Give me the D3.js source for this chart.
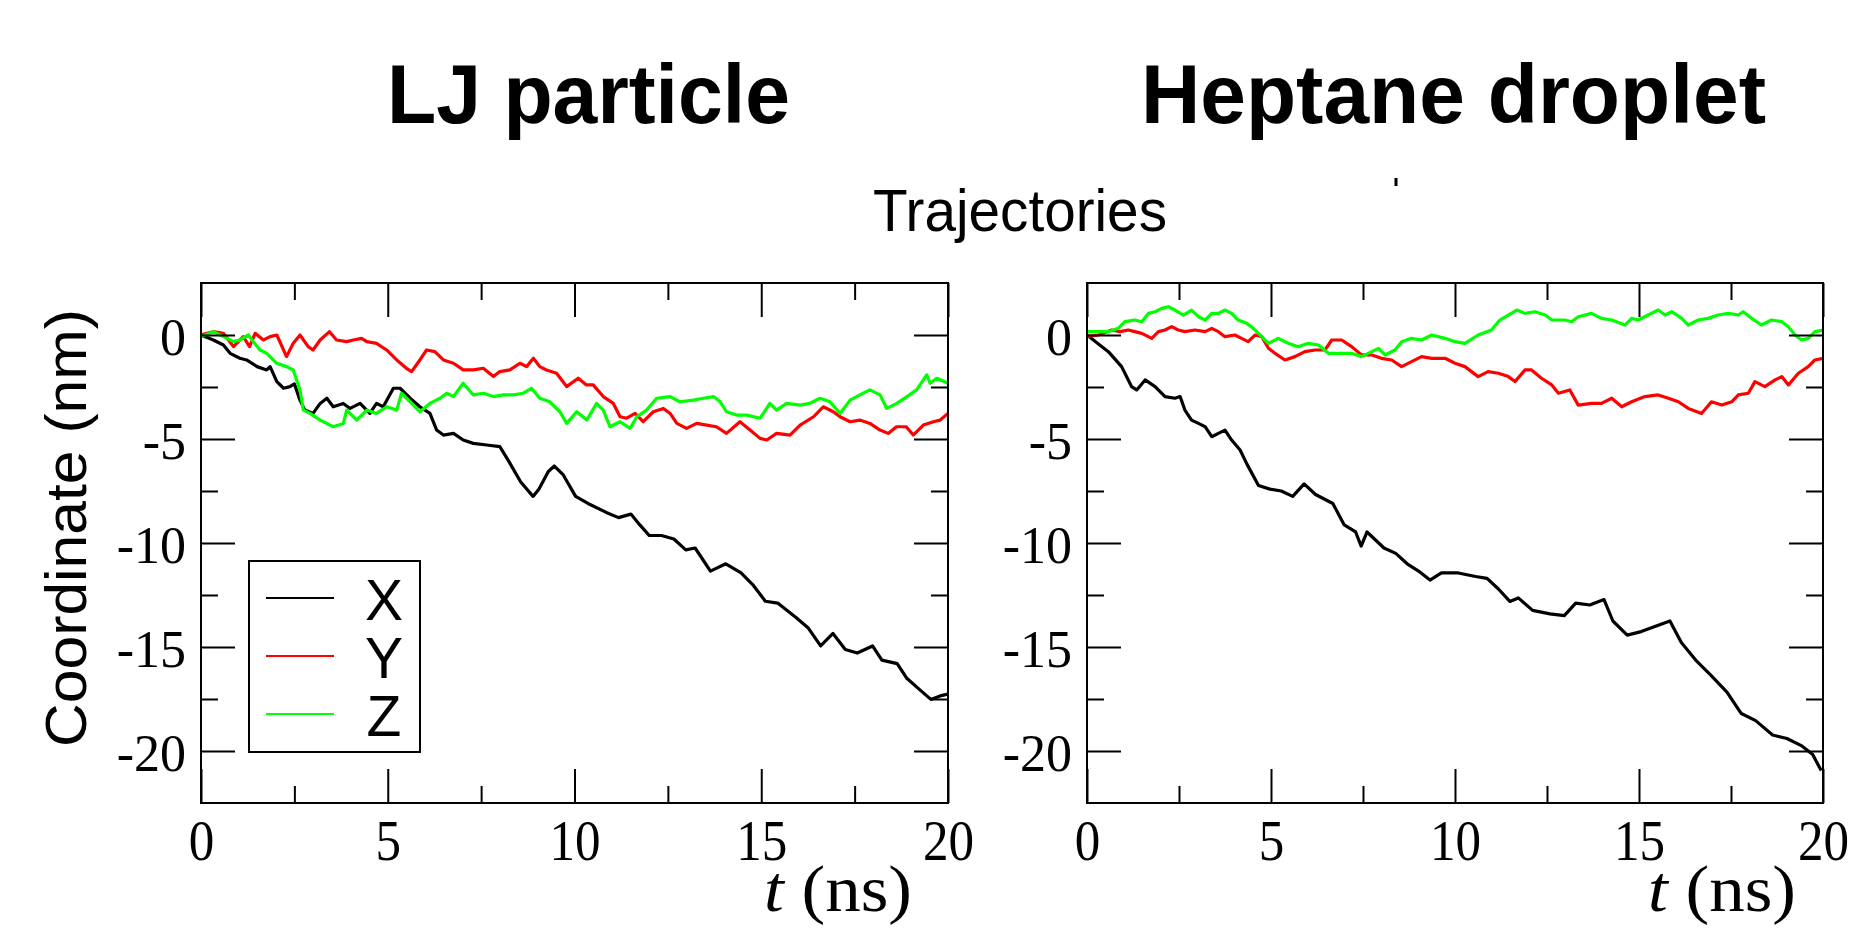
<!DOCTYPE html>
<html>
<head>
<meta charset="utf-8">
<script src="https://cdn.jsdelivr.net/npm/d3@7"></script>
<style>
  body { margin: 0; background: #fff; }
  svg { display: block; }
</style>
</head>
<body>
<div id="chart"></div>
<script>
const width = 1858
const height = 928

// trajectories, [t (ns), coordinate (nm)]
const ljX = [[0,0],[0.33,-0.24],[0.6,-0.48],[0.78,-0.88],[1.04,-1.12],[1.22,-1.2],[1.5,-1.52],[1.76,-1.68],[1.85,-1.52],[2.03,-2.24],[2.21,-2.56],[2.38,-2.48],[2.5,-2.35],[2.65,-3.13],[2.78,-3.61],[3.0,-3.77],[3.19,-3.29],[3.37,-3.04],[3.54,-3.45],[3.81,-3.29],[3.99,-3.53],[4.26,-3.29],[4.52,-3.77],[4.7,-3.29],[4.88,-3.45],[5.15,-2.56],[5.33,-2.56],[5.6,-3.04],[5.86,-3.45],[6.13,-3.77],[6.31,-4.57],[6.49,-4.81],[6.76,-4.73],[7.02,-5.05],[7.29,-5.21],[7.65,-5.29],[8.0,-5.37],[8.23,-6.04],[8.56,-7.07],[8.89,-7.76],[9.05,-7.4],[9.3,-6.56],[9.46,-6.3],[9.7,-6.73],[10.03,-7.76],[10.36,-8.1],[10.85,-8.53],[11.18,-8.78],[11.51,-8.61],[11.75,-9.13],[12.0,-9.64],[12.33,-9.64],[12.66,-9.81],[12.98,-10.33],[13.23,-10.24],[13.64,-11.35],[14.05,-11.0],[14.46,-11.44],[14.79,-12.04],[15.11,-12.8],[15.44,-12.89],[15.93,-13.58],[16.26,-14.09],[16.59,-14.95],[16.92,-14.35],[17.25,-15.12],[17.57,-15.29],[17.98,-14.95],[18.23,-15.63],[18.64,-15.8],[18.89,-16.49],[19.21,-17.0],[19.54,-17.52],[19.79,-17.35],[20.0,-17.26]]
const ljY = [[0,0],[0.33,0.16],[0.6,0.08],[0.87,-0.56],[1.13,-0.08],[1.3,-0.56],[1.45,0.08],[1.67,-0.24],[1.85,-0.08],[2.03,0],[2.29,-1.04],[2.47,-0.4],[2.65,0],[2.87,-0.56],[3.0,-0.72],[3.19,-0.24],[3.44,0.16],[3.63,-0.24],[3.9,-0.32],[4.08,-0.24],[4.3,-0.16],[4.44,-0.32],[4.7,-0.4],[4.97,-0.72],[5.24,-1.2],[5.5,-1.6],[5.64,-1.76],[5.86,-1.2],[6.04,-0.72],[6.26,-0.8],[6.49,-1.2],[6.76,-1.36],[7.02,-1.68],[7.29,-1.68],[7.56,-1.6],[7.83,-2.0],[8.0,-1.76],[8.27,-1.68],[8.54,-1.36],[8.72,-1.52],[8.9,-1.12],[9.07,-1.52],[9.25,-1.68],[9.52,-1.84],[9.79,-2.48],[10.1,-2.08],[10.32,-2.4],[10.5,-2.4],[10.77,-2.96],[11.04,-3.29],[11.22,-3.93],[11.4,-4.0],[11.62,-3.77],[11.84,-4.17],[12.11,-3.69],[12.38,-3.53],[12.56,-3.77],[12.74,-4.25],[13.0,-4.49],[13.27,-4.25],[13.54,-4.33],[13.8,-4.41],[14.07,-4.73],[14.43,-4.17],[14.7,-4.57],[14.97,-4.97],[15.15,-5.05],[15.41,-4.73],[15.77,-4.81],[16.04,-4.33],[16.4,-3.93],[16.66,-3.45],[16.93,-3.69],[17.11,-3.93],[17.38,-4.17],[17.64,-4.09],[17.91,-4.25],[18.18,-4.57],[18.4,-4.73],[18.62,-4.41],[18.88,-4.41],[19.07,-4.81],[19.34,-4.33],[19.61,-4.17],[19.79,-4.09],[20.0,-3.77]]
const ljZ = [[0,-0.08],[0.33,0.16],[0.6,-0.08],[0.87,-0.32],[1.04,-0.24],[1.27,0],[1.4,-0.32],[1.58,-0.72],[1.76,-0.88],[2.03,-1.36],[2.29,-1.52],[2.47,-1.68],[2.65,-2.64],[2.74,-3.61],[2.92,-3.77],[3.19,-4.09],[3.54,-4.41],[3.81,-4.25],[3.9,-3.61],[4.17,-4.09],[4.44,-3.61],[4.7,-3.77],[4.97,-3.45],[5.24,-3.61],[5.37,-2.8],[5.6,-3.21],[5.86,-3.69],[6.13,-3.29],[6.4,-3.04],[6.58,-2.8],[6.76,-2.96],[7.02,-2.32],[7.29,-2.88],[7.56,-2.8],[7.83,-2.96],[8.1,-2.88],[8.36,-2.88],[8.63,-2.8],[8.85,-2.56],[9.07,-3.04],[9.34,-3.21],[9.61,-3.69],[9.79,-4.25],[10.06,-3.69],[10.33,-4.09],[10.59,-3.29],[10.77,-3.61],[10.95,-4.41],[11.22,-4.17],[11.49,-4.49],[11.67,-3.93],[11.93,-3.61],[12.2,-3.04],[12.56,-2.96],[12.82,-3.21],[13.18,-3.13],[13.45,-3.04],[13.72,-2.96],[13.9,-3.21],[14.07,-3.69],[14.34,-3.85],[14.61,-3.85],[14.97,-4.0],[15.23,-3.29],[15.41,-3.61],[15.68,-3.29],[16.04,-3.37],[16.3,-3.29],[16.57,-3.04],[16.84,-3.21],[17.11,-3.77],[17.38,-3.13],[17.64,-2.88],[17.91,-2.64],[18.18,-2.88],[18.36,-3.53],[18.63,-3.29],[18.9,-2.96],[19.16,-2.64],[19.43,-1.92],[19.52,-2.32],[19.7,-2.08],[20.0,-2.32]]

const hepX = [[0,0],[0.58,-0.8],[0.94,-1.52],[1.21,-2.48],[1.35,-2.64],[1.58,-2.16],[1.85,-2.48],[2.12,-2.96],[2.39,-3.04],[2.53,-2.96],[2.66,-3.61],[2.84,-4.09],[3.03,-4.25],[3.21,-4.41],[3.39,-4.89],[3.57,-4.73],[3.75,-4.57],[3.93,-5.05],[4.16,-5.53],[4.35,-6.22],[4.66,-7.24],[4.97,-7.41],[5.28,-7.5],[5.59,-7.76],[5.9,-7.16],[6.21,-7.67],[6.68,-8.1],[6.99,-9.13],[7.3,-9.47],[7.45,-10.15],[7.61,-9.47],[8.07,-10.24],[8.39,-10.5],[8.7,-11.0],[9.01,-11.35],[9.32,-11.78],[9.63,-11.44],[10.09,-11.44],[10.56,-11.61],[10.87,-11.7],[11.18,-12.21],[11.49,-12.81],[11.72,-12.64],[12.11,-13.24],[12.58,-13.41],[12.97,-13.49],[13.28,-12.89],[13.66,-12.98],[14.05,-12.72],[14.29,-13.75],[14.68,-14.43],[15.06,-14.26],[15.45,-14.0],[15.84,-13.75],[16.15,-14.78],[16.54,-15.63],[16.93,-16.32],[17.39,-17.17],[17.78,-18.2],[18.17,-18.54],[18.63,-19.23],[19.02,-19.4],[19.41,-19.74],[19.72,-20.17],[19.95,-20.94]]
const hepY = [[0,-0.08],[0.31,0],[0.67,0.24],[0.9,0.16],[1.12,0.24],[1.3,0.16],[1.49,0.08],[1.76,-0.16],[1.94,0.16],[2.12,0.24],[2.3,0.4],[2.48,0.24],[2.66,0.16],[2.93,0.24],[3.21,0.16],[3.39,0.32],[3.57,0.16],[3.75,-0.08],[4.02,0],[4.2,-0.16],[4.38,-0.32],[4.57,0],[4.75,-0.08],[4.93,-0.64],[5.11,-0.88],[5.38,-1.2],[5.65,-1.04],[5.92,-0.8],[6.2,-0.72],[6.47,-0.72],[6.65,-0.24],[6.92,-0.24],[7.19,-0.56],[7.46,-0.96],[7.74,-0.96],[8.0,-1.12],[8.28,-1.2],[8.55,-1.52],[8.82,-1.28],[9.09,-1.04],[9.37,-1.12],[9.73,-1.12],[10.0,-1.36],[10.27,-1.52],[10.63,-2.0],[10.9,-1.76],[11.18,-1.84],[11.45,-2.0],[11.63,-2.24],[11.9,-1.68],[12.08,-1.68],[12.35,-2.08],[12.63,-2.4],[12.81,-2.8],[13.12,-2.64],[13.35,-3.37],[13.71,-3.29],[13.98,-3.29],[14.26,-3.04],[14.53,-3.45],[14.8,-3.21],[15.16,-2.96],[15.52,-2.88],[15.8,-3.04],[16.07,-3.21],[16.34,-3.53],[16.7,-3.77],[16.97,-3.21],[17.25,-3.37],[17.52,-3.21],[17.7,-2.88],[17.97,-2.8],[18.15,-2.24],[18.42,-2.48],[18.7,-2.16],[18.88,-2.0],[19.06,-2.4],[19.33,-1.84],[19.6,-1.52],[19.78,-1.2],[20.0,-1.12]]
const hepZ = [[0,0.16],[0.58,0.16],[0.85,0.32],[1.03,0.64],[1.3,0.72],[1.49,0.64],[1.67,1.04],[1.85,1.12],[2.03,1.28],[2.21,1.36],[2.39,1.2],[2.62,0.96],[2.84,1.2],[3.03,0.88],[3.21,0.72],[3.39,1.04],[3.57,1.04],[3.75,1.2],[3.93,1.04],[4.11,0.72],[4.34,0.56],[4.57,0.24],[4.75,-0.08],[4.93,-0.4],[5.2,-0.16],[5.47,-0.4],[5.74,-0.56],[6.01,-0.4],[6.29,-0.48],[6.56,-0.88],[6.83,-0.88],[7.19,-0.88],[7.46,-1.04],[7.74,-0.8],[7.92,-0.64],[8.1,-0.96],[8.37,-0.72],[8.55,-0.32],[8.82,-0.16],[9.09,-0.24],[9.37,0],[9.73,-0.16],[10.0,-0.32],[10.27,-0.4],[10.63,0],[10.99,0.24],[11.22,0.72],[11.45,0.96],[11.68,1.2],[11.9,1.04],[12.17,1.12],[12.45,0.96],[12.63,0.72],[12.99,0.72],[13.17,0.64],[13.35,0.88],[13.71,1.04],[13.98,0.8],[14.26,0.72],[14.62,0.48],[14.8,0.8],[14.98,0.72],[15.25,0.96],[15.52,1.2],[15.71,0.96],[15.89,1.12],[16.16,0.8],[16.34,0.48],[16.61,0.72],[16.88,0.8],[17.15,0.96],[17.43,1.04],[17.7,0.96],[17.83,1.12],[18.06,0.8],[18.33,0.48],[18.6,0.72],[18.88,0.64],[19.06,0.4],[19.24,0],[19.42,-0.24],[19.6,-0.16],[19.78,0.16],[20.0,0.24]]

const xMajor = [0, 5, 10, 15, 20]
const xMinor = [2.5, 7.5, 12.5, 17.5]
const yMajor = [0, -5, -10, -15, -20]
const yMinor = [-2.5, -7.5, -12.5, -17.5]
const seriesNames = ['X', 'Y', 'Z']
const panelTitles = ['LJ particle', 'Heptane droplet']
const panelSeries = [[ljX, ljY, ljZ], [hepX, hepY, hepZ]]

const colors = ['#000000', '#ff0000', '#00ff00']
const sans = "'Liberation Sans', Arial, sans-serif"
const serif = "'Liberation Serif', 'Times New Roman', serif"

const plotTop = 283
const plotBottom = 803
// layout of each panel: frame edges, title and axis-title placement
const layout = [
  { left: 201, right: 948, titleX: 387, titleW: 403, labelX: 764 },
  { left: 1087, right: 1823, titleX: 1141, titleW: 625, labelX: 1648 },
]

const svg = d3.select('#chart')
  .append('svg')
    .attr('width', width)
    .attr('height', height)

const y_scale = d3.scaleLinear()
  .domain([-22.5, 2.5])
  .range([plotBottom, plotTop])

const line = x_scale => d3.line()
  .x(d => x_scale(d[0]))
  .y(d => y_scale(d[1]))

const styleAxis = (g, font, size) => g
  .call(g => g.selectAll('.domain').remove())
  .call(g => g.selectAll('.tick line').attr('stroke', '#000').attr('stroke-width', 2))
  .call(g => g.selectAll('.tick text')
    .attr('fill', '#000')
    .attr('font-family', font)
    .attr('font-size', size))

const label = d => String(d)

panelTitles.forEach((title, i) => {
  const L = layout[i]
  const x_scale = d3.scaleLinear()
    .domain([0, 20])
    .range([L.left, L.right])
  const g = svg.append('g')

  // panel title
  g.append('text')
    .attr('x', L.titleX)
    .attr('y', 123)
    .attr('font-family', sans)
    .attr('font-weight', 'bold')
    .attr('font-size', 84)
    .attr('textLength', L.titleW)
    .attr('lengthAdjust', 'spacingAndGlyphs')
    .text(title)

  // clipped lines
  g.append('clipPath')
    .attr('id', `clip${i}`)
    .append('rect')
      .attr('x', L.left)
      .attr('y', plotTop)
      .attr('width', L.right - L.left)
      .attr('height', plotBottom - plotTop)

  g.append('g')
    .attr('clip-path', `url(#clip${i})`)
    .selectAll('path')
    .data(panelSeries[i])
    .enter().append('path')
      .attr('d', line(x_scale))
      .attr('fill', 'none')
      .attr('stroke', (d, k) => colors[k])
      .attr('stroke-width', 3.2)
      .attr('stroke-linejoin', 'round')

  // ticks, all pointing inwards
  g.append('g')
    .attr('transform', `translate(0,${plotBottom})`)
    .call(d3.axisBottom(x_scale).tickValues(xMajor).tickSizeInner(-34).tickSizeOuter(0).tickPadding(16).tickFormat(label))
    .call(g => styleAxis(g, serif, 58))
    .call(g => g.selectAll('.tick text').attr('transform', 'scale(0.88,1)'))
  g.append('g')
    .attr('transform', `translate(0,${plotBottom})`)
    .call(d3.axisBottom(x_scale).tickValues(xMinor).tickSizeInner(-17).tickSizeOuter(0).tickFormat(''))
    .call(g => styleAxis(g, serif, 58))
  g.append('g')
    .attr('transform', `translate(0,${plotTop})`)
    .call(d3.axisTop(x_scale).tickValues(xMajor).tickSizeInner(-34).tickSizeOuter(0).tickFormat(''))
    .call(g => styleAxis(g, serif, 58))
  g.append('g')
    .attr('transform', `translate(0,${plotTop})`)
    .call(d3.axisTop(x_scale).tickValues(xMinor).tickSizeInner(-17).tickSizeOuter(0).tickFormat(''))
    .call(g => styleAxis(g, serif, 58))

  g.append('g')
    .attr('transform', `translate(${L.left},0)`)
    .call(d3.axisLeft(y_scale).tickValues(yMajor).tickSizeInner(-34).tickSizeOuter(0).tickPadding(15).tickFormat(label))
    .call(g => styleAxis(g, serif, 52))
    .call(g => g.selectAll('.tick text').attr('dy', '0.37em'))
  g.append('g')
    .attr('transform', `translate(${L.left},0)`)
    .call(d3.axisLeft(y_scale).tickValues(yMinor).tickSizeInner(-17).tickSizeOuter(0).tickFormat(''))
    .call(g => styleAxis(g, serif, 52))
  g.append('g')
    .attr('transform', `translate(${L.right},0)`)
    .call(d3.axisRight(y_scale).tickValues(yMajor).tickSizeInner(-34).tickSizeOuter(0).tickFormat(''))
    .call(g => styleAxis(g, serif, 52))
  g.append('g')
    .attr('transform', `translate(${L.right},0)`)
    .call(d3.axisRight(y_scale).tickValues(yMinor).tickSizeInner(-17).tickSizeOuter(0).tickFormat(''))
    .call(g => styleAxis(g, serif, 52))

  // frame
  g.append('rect')
    .attr('x', L.left)
    .attr('y', plotTop)
    .attr('width', L.right - L.left)
    .attr('height', plotBottom - plotTop)
    .attr('fill', 'none')
    .attr('stroke', '#000')
    .attr('stroke-width', 2)

  // x axis title
  const xt = g.append('text')
    .attr('x', L.labelX)
    .attr('y', 911)
    .attr('font-family', serif)
    .attr('font-size', 66)
    .attr('textLength', 148)
    .attr('lengthAdjust', 'spacingAndGlyphs')
  xt.append('tspan').attr('font-style', 'italic').text('t')
  xt.append('tspan').text(' (ns)')
})

// y axis title
svg.append('text')
  .attr('transform', 'translate(86,528) rotate(-90)')
  .attr('text-anchor', 'middle')
  .attr('font-family', sans)
  .attr('font-size', 58)
  .attr('textLength', 438)
  .attr('lengthAdjust', 'spacingAndGlyphs')
  .text('Coordinate (nm)')

// figure subtitle
svg.append('text')
  .attr('x', 873)
  .attr('y', 231)
  .attr('font-family', sans)
  .attr('font-size', 60)
  .attr('textLength', 294)
  .attr('lengthAdjust', 'spacingAndGlyphs')
  .text('Trajectories')

// stray mark under the right title
svg.append('line')
  .attr('x1', 1396).attr('x2', 1396)
  .attr('y1', 178).attr('y2', 186)
  .attr('stroke', '#000')
  .attr('stroke-width', 3)

// legend
const legend = svg.append('g')
legend.append('rect')
  .attr('x', 249)
  .attr('y', 561)
  .attr('width', 171)
  .attr('height', 191)
  .attr('fill', '#fff')
  .attr('stroke', '#000')
  .attr('stroke-width', 2)
const legendY = d3.scalePoint()
  .domain(seriesNames)
  .range([598, 714])
const rows = legend.selectAll('.row')
  .data(seriesNames)
  .enter().append('g')
    .classed('row', true)
    .attr('transform', d => `translate(0,${legendY(d)})`)
rows.append('line')
  .attr('x1', 266)
  .attr('x2', 334)
  .attr('stroke', (d, k) => colors[k])
  .attr('stroke-width', 2)
rows.append('text')
  .attr('x', 384)
  .attr('y', 22)
  .attr('text-anchor', 'middle')
  .attr('font-family', sans)
  .attr('font-size', 57)
  .text(d => d)
</script>
</body>
</html>
